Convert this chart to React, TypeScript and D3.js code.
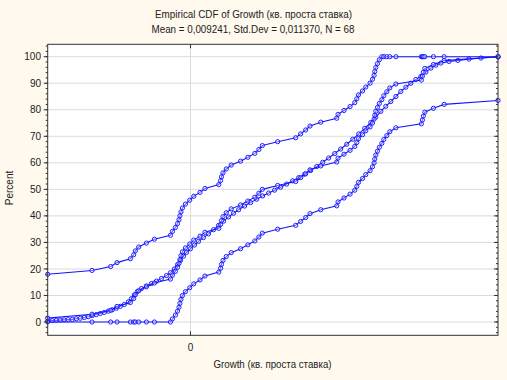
import React from 'react';
import * as d3 from 'd3';

const GROWTH = [
  -0.01528, -0.01054, -0.00854, -0.00786, -0.00643, -0.00608, -0.0059, -0.00554, -0.00472, -0.00386,
  -0.00214, -0.00193, -0.00161, -0.00139, -0.00123, -0.00113, -0.00102, -0.00086, -0.00054, -0.00008,
  0.00035, 0.00102, 0.00155, 0.00303, 0.00322, 0.00332, 0.00348, 0.00383, 0.00436, 0.00536,
  0.00614, 0.00689, 0.00732, 0.00769, 0.00933, 0.01126, 0.01179, 0.01233, 0.01279, 0.01394,
  0.01565, 0.01579, 0.01643, 0.01708, 0.01758, 0.0178, 0.01798, 0.01841, 0.01876, 0.01922,
  0.01948, 0.01965, 0.01972, 0.01983, 0.02001, 0.02021, 0.02048, 0.02069, 0.02101, 0.02133,
  0.02198, 0.02471, 0.02482, 0.02492, 0.02508, 0.026, 0.02715, 0.03291,
];

// Smooth reference curve (x in Growth units, y in percent)
const FIT_X = [
  -0.01528, -0.01479, -0.01436, -0.01394, -0.01351, -0.01308, -0.01265, -0.01222, -0.01179, -0.01136,
  -0.01093, -0.01051, -0.01008, -0.00965, -0.00922, -0.00879, -0.00836, -0.00793, -0.0075, -0.00708,
  -0.00665, -0.00632, -0.006, -0.00568, -0.00525, -0.00472, -0.00418, -0.00364, -0.00311, -0.00257,
  -0.00214, -0.00172, -0.00139, -0.00107, -0.00075, -0.00043, 0.0, 0.00043, 0.00086, 0.00139,
  0.00193, 0.00247, 0.003, 0.00354, 0.00407, 0.00461, 0.00515, 0.00579, 0.00643, 0.00708,
  0.00772, 0.00836, 0.009, 0.00965, 0.01029, 0.01093, 0.01158, 0.01222, 0.01286, 0.01351,
  0.01415, 0.01479, 0.01544, 0.01608, 0.01672, 0.01737, 0.01801, 0.01865, 0.0193, 0.01983,
  0.02037, 0.0209, 0.02144, 0.02198, 0.02251, 0.02305, 0.02358, 0.02412, 0.02466, 0.02519,
  0.02573, 0.02626, 0.0268, 0.02766, 0.02862, 0.0298, 0.03109, 0.03291,
];
const FIT_P = [
  0.4, 0.5, 0.6, 0.7, 0.8, 0.9, 1.0, 1.2, 1.4, 1.7,
  2.0, 2.4, 2.8, 3.2, 3.6, 4.1, 4.6, 5.2, 5.9, 6.6,
  7.6, 8.8, 10.2, 11.5, 12.6, 13.6, 14.5, 15.4, 16.4, 17.5,
  18.6, 20.0, 21.6, 23.2, 24.8, 26.2, 27.6, 29.0, 30.4, 31.8,
  33.2, 34.8, 36.4, 38.0, 39.6, 41.0, 42.3, 43.7, 45.0, 46.3,
  47.5, 48.6, 49.7, 50.8, 52.0, 53.2, 54.4, 55.7, 57.1, 58.6,
  60.2, 61.8, 63.5, 65.2, 67.0, 68.9, 70.9, 73.0, 75.2, 77.2,
  79.4, 81.3, 83.1, 85.0, 86.9, 88.5, 90.0, 91.4, 92.6, 94.2,
  95.7, 96.8, 97.6, 98.2, 98.6, 99.1, 99.5, 99.9,
];

const Y_TICKS = [0, 10, 20, 30, 40, 50, 60, 70, 80, 90, 100];
const Y_MINOR = d3.range(-4, 105, 2);
const X_TICKS = [0];
const BAND = 16.5; // half-width of the confidence band, in percent

const TITLE = 'Empirical CDF of Growth (кв. проста ставка)';
const SUBTITLE = 'Mean = 0,009241, Std.Dev = 0,011370, N = 68';
const X_LABEL = 'Growth (кв. проста ставка)';
const Y_LABEL = 'Percent';

export default function App() {
  const W = 507;
  const H = 380;
  const L = 47.7, R = 498, T = 44.3, B = 335.3;
  const sorted = [...GROWTH].sort(d3.ascending);
  const n = sorted.length;
  const ext = d3.extent(sorted) as [number, number];
  const x = d3.scaleLinear().domain(ext).range([L, R]);
  const y = d3.scaleLinear().domain([0, 100]).range([322, 56.7]);

  const ecdf = sorted.map((v, i) => ({ x: v, p: ((i + 1) / n) * 100 }));
  const upper = ecdf.map((d) => ({ x: d.x, p: Math.min(100, d.p + BAND) }));
  const lower = ecdf.map((d) => ({ x: d.x, p: Math.max(0, d.p - BAND) }));
  const fit = FIT_X.map((v, i) => ({ x: v, p: FIT_P[i] }));

  const line = d3
    .line<{ x: number; p: number }>()
    .x((d) => x(d.x))
    .y((d) => y(d.p));

  const blue = '#1414ff';
  const font = "'Liberation Sans', Arial, sans-serif";
  const txt = '#222';
  const series = [fit, lower, upper, ecdf];

  return (
    <svg
      width={W}
      height={H}
      style={{ position: 'absolute', left: 0, top: 0 }}
      fontFamily={font}
    >
      <rect x={0} y={0} width={W} height={H} fill="#fff9ee" />
      <rect x={L} y={T} width={R - L} height={B - T} fill="#ffffff" />
      {/* grid */}
      {Y_TICKS.map((t) => (
        <line key={'g' + t} x1={L} x2={R} y1={y(t)} y2={y(t)} stroke="#dcdcdc" strokeWidth={1} />
      ))}
      {X_TICKS.map((t) => (
        <line key={'gx' + t} x1={x(t)} x2={x(t)} y1={T} y2={B} stroke="#dcdcdc" strokeWidth={1} />
      ))}
      {/* series */}
      {series.map((s, k) => (
        <g key={'s' + k}>
          <path d={line(s) || ''} fill="none" stroke={blue} strokeWidth={1.1} />
          {s.map((d, i) => (
            <circle
              key={i}
              cx={x(d.x)}
              cy={y(d.p)}
              r={2.1}
              fill="rgba(255,255,255,0.35)"
              stroke={blue}
              strokeWidth={0.95}
            />
          ))}
        </g>
      ))}
      {/* frame */}
      <rect x={L} y={T} width={R - L} height={B - T} fill="none" stroke="#333" strokeWidth={1} />
      {/* axis ticks */}
      {Y_MINOR.map((t) => (
        <g key={'m' + t}>
          <line x1={L - 2} x2={L} y1={y(t)} y2={y(t)} stroke="#333" />
          <line x1={R - 2} x2={R} y1={y(t)} y2={y(t)} stroke="#333" />
        </g>
      ))}
      {Y_TICKS.map((t) => (
        <g key={'t' + t}>
          <line x1={L - 4} x2={L} y1={y(t)} y2={y(t)} stroke="#333" />
          <line x1={R - 4} x2={R} y1={y(t)} y2={y(t)} stroke="#333" />
          <text x={41} y={y(t) + 3.6} fontSize={10} textAnchor="end" fill={txt}>
            {t}
          </text>
        </g>
      ))}
      {X_TICKS.map((t) => (
        <g key={'xt' + t}>
          <line x1={x(t)} x2={x(t)} y1={B} y2={B - 4} stroke="#333" />
          <line x1={x(t)} x2={x(t)} y1={T} y2={T + 4} stroke="#333" />
          <text x={x(t)} y={351} fontSize={10} textAnchor="middle" fill={txt}>
            {t}
          </text>
        </g>
      ))}
      {/* titles */}
      <text x={253.5} y={17.5} fontSize={10} textAnchor="middle" fill={txt} textLength={197} lengthAdjust="spacingAndGlyphs">
        {TITLE}
      </text>
      <text x={253} y={33} fontSize={10} textAnchor="middle" fill={txt} textLength={203} lengthAdjust="spacingAndGlyphs">
        {SUBTITLE}
      </text>
      <text x={272.5} y={368} fontSize={10} textAnchor="middle" fill={txt} textLength={118} lengthAdjust="spacingAndGlyphs">
        {X_LABEL}
      </text>
      <text
        transform={`translate(13, 188) rotate(-90)`}
        fontSize={10}
        textAnchor="middle"
        fill={txt}
      >
        {Y_LABEL}
      </text>
    </svg>
  );
}
